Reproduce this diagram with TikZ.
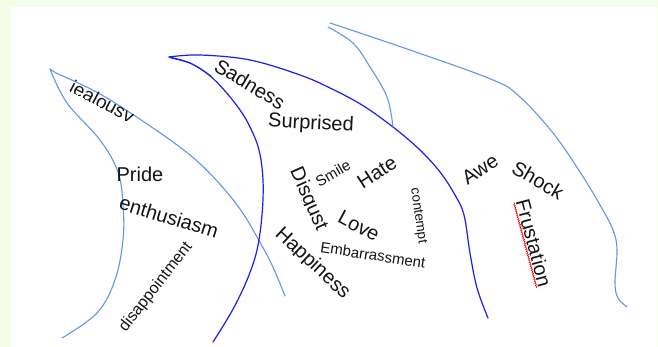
\documentclass[tikz,border=0pt]{standalone}
\usepackage{fontspec}
\setmainfont{Liberation Sans}
\usetikzlibrary{decorations.pathmorphing}
\definecolor{bgl}{RGB}{245,253,232}
\definecolor{lb}{RGB}{100,149,237}
\definecolor{db}{RGB}{30,30,232}
\definecolor{ink}{RGB}{20,20,20}
\newcommand\fsz[1]{\fontsize{#1}{#1}\selectfont}
\newcommand\clipword[7]{%
  \begin{scope}[shift={(#2,#3)}, rotate=#4]
    \clip (-150pt,#6) rectangle (150pt,40pt);
    \node[word, anchor=base, transform shape, font=\fsz{#5}] (#1) at (0pt,0pt) {#7};
  \end{scope}}
\begin{document}
\begin{tikzpicture}[x=1pt,y=-1pt,
  word/.style={inner sep=0pt, text=ink},
  big/.style={font=\fsz{20}},
  small/.style={font=\fsz{15}},
  lbc/.style={draw=lb, line width=1.1pt, line cap=round, line join=round},
  dbc/.style={draw=db, line width=1.2pt, line cap=round, line join=round},
  squig/.style={draw=red, line width=0.6pt, decorate, decoration={snake, amplitude=0.7pt, segment length=2.2pt}}]
\useasboundingbox (0,0) rectangle (658,347);
\fill[bgl] (0,0) rectangle (658,347);
\fill[white] (11,7.5) rectangle (656.5,347);

% left light-blue curve
\draw[lbc] plot[smooth, tension=0.6] coordinates {(62,338) (97,313) (115,280) (123,240) (123,205) (118,172) (100,140) (67,103) (50,69)};
\draw[lbc] (50,69) -- (56,73);
\draw[lbc] plot[smooth, tension=0.6] coordinates {(56,73) (100,94) (150,126) (190,155) (217,181) (240,209) (257,237) (272,265) (285,296)};

% middle blue curve
\draw[dbc] plot[smooth, tension=0.6] coordinates {(213,342) (232,311) (247,280) (257,250) (262,215) (263,180) (259,150) (250,127) (240,110) (225,91) (209,75) (190,63) (169,57)};
\draw[dbc] plot[smooth, tension=0.6] coordinates {(169,57) (200,55) (250,60) (300,75) (330,88) (362,105) (393,127) (420,150) (440,172) (455,195) (464,215) (470,253) (477,288) (488,318)};
\draw[dbc, line width=0.9pt] plot[smooth, tension=0.6] coordinates {(171,58) (192,64) (211,76)};

% right light-blue curve
\draw[lbc] plot[smooth, tension=0.6] coordinates {(328,27) (353,43) (370,67) (387,97) (393,127)};
\draw[lbc] plot[smooth, tension=0.6] coordinates {(330,23) (410,50) (493,80) (520,97) (553,133) (580,172) (600,205) (613,230) (617,250) (615,283) (618,298) (627,307)};

% words
\clipword{jea}{99}{107.5}{-28}{19}{1pt}{jealousy}
\node[word, big, rotate=-31] (sad) at (250,84) {Sadness};
\node[word, big, rotate=-3] (sur) at (311,124) {Surprised};
\node[word, big] (pri) at (140,174) {Pride};
\node[word, big, rotate=-17] (ent) at (169,217) {enthusiasm};
\node[word, font=\fsz{16}, rotate=52] (dis) at (156,287) {disappointment};
\clipword{dsg}{303.5}{201.4}{-66}{20}{-1.5pt}{Disgust}
\node[word, small, rotate=30] (smi) at (333,173) {Smile};
\node[word, big, rotate=33] (hat) at (377,172) {Hate};
\node[word, big, rotate=-28] (lov) at (359,226) {Love};
\node[word, font=\fsz{13.5}, rotate=-82] (con) at (418,216) {contempt};
\node[word, small, rotate=-8.5] (emb) at (373,255) {Embarrassment};
\clipword{hap}{309}{267.5}{-43}{20}{-2pt}{Happiness}
\node[word, big, rotate=33] (awe) at (480,169) {Awe};
\node[word, big, rotate=-30] (sho) at (538,180) {Shock};
\node[word, big, rotate=-75] (fru) at (534,243) {Frustation};
\begin{scope}[shift={(534,243)}, rotate=-75]
  \draw[squig] (-44pt,-9pt) -- (44pt,-9pt);
\end{scope}
\end{tikzpicture}
\end{document}
